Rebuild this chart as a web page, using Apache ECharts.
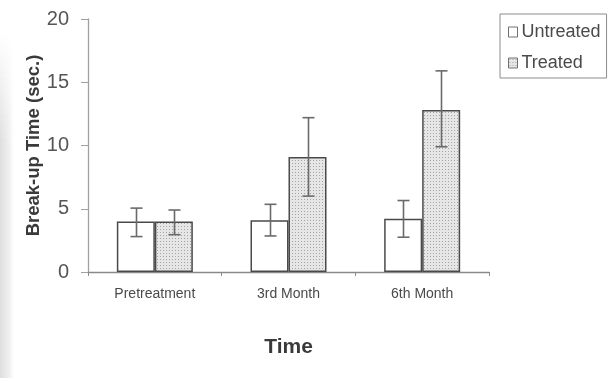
<!DOCTYPE html>
<html>
<head>
<meta charset="utf-8">
<script src="https://cdn.jsdelivr.net/npm/echarts@6/dist/echarts.min.js"></script>
<style>
  html, body { margin: 0; padding: 0; background: #fff; }
  #chart { width: 609px; height: 378px; }
</style>
</head>
<body>
<div id="chart"></div>
<script>
// Break-up time by visit, untreated vs treated eyes
const categories = ['Pretreatment', '3rd Month', '6th Month'];
const untreated = [4.0, 4.1, 4.2];
const treated = [4.0, 9.1, 12.8];
// error bar extents (low / high) for each group
const untreatedLow = [2.8, 2.85, 2.75];
const untreatedHigh = [5.05, 5.35, 5.65];
const treatedLow = [2.95, 6.0, 9.9];
const treatedHigh = [4.9, 12.2, 15.9];
const yTicks = [0, 5, 10, 15, 20];

// fine stipple fill for the treated bars
function stipple() {
  const c = document.createElement('canvas');
  c.width = 3; c.height = 3;
  const g = c.getContext('2d');
  g.fillStyle = '#e6e6e6';
  g.fillRect(0, 0, 3, 3);
  g.fillStyle = '#a4a4a4';
  g.fillRect(1, 1, 1, 1);
  return c;
}

const BAR_W = 38;
const CAP = 6;

function errorSeries(name, low, high, offset) {
  return {
    type: 'custom',
    name: name,
    silent: true,
    z: 5,
    data: low.map((l, i) => [i, l, high[i]]),
    renderItem: function (params, api) {
      const i = api.value(0);
      const pLo = api.coord([i, api.value(1)]);
      const pHi = api.coord([i, api.value(2)]);
      const x = Math.round(pLo[0] + offset) + 0.5;
      const style = { stroke: '#6a6a6a', lineWidth: 1.6 };
      return {
        type: 'group',
        children: [
          { type: 'line', shape: { x1: x, y1: pLo[1], x2: x, y2: pHi[1] }, style: style },
          { type: 'line', shape: { x1: x - CAP, y1: pLo[1], x2: x + CAP, y2: pLo[1] }, style: style },
          { type: 'line', shape: { x1: x - CAP, y1: pHi[1], x2: x + CAP, y2: pHi[1] }, style: style }
        ]
      };
    }
  };
}

// faint grey margin along the left edge, fading in from the top
function edgeShade() {
  const parts = [];
  const step = 6;
  for (let y = 30; y < 378; y += step) {
    const a = Math.min(0.13, 0.13 * (y - 30) / 110);
    parts.push({
      type: 'rect',
      left: 0,
      top: y,
      shape: { width: 14, height: step },
      silent: true,
      z: -10,
      style: {
        fill: {
          type: 'linear', x: 0, y: 0, x2: 1, y2: 0,
          colorStops: [
            { offset: 0, color: 'rgba(0,0,0,' + a.toFixed(3) + ')' },
            { offset: 0.6, color: 'rgba(0,0,0,' + (a / 2).toFixed(3) + ')' },
            { offset: 1, color: 'rgba(0,0,0,0)' }
          ]
        }
      }
    });
  }
  return parts;
}

const chart = echarts.init(document.getElementById('chart'), null, { renderer: 'canvas' });
const FONT = '"Liberation Sans", Arial, sans-serif';

chart.setOption({
  animation: false,
  backgroundColor: '#ffffff',
  graphic: edgeShade(),
  grid: { left: 88, right: 120, top: 19, bottom: 106, containLabel: false },
  legend: {
    data: ['Untreated', 'Treated'],
    orient: 'vertical',
    left: 500,
    top: 14,
    padding: [9, 6, 6, 8],
    itemGap: 13,
    itemWidth: 9,
    itemHeight: 10,
    icon: 'rect',
    itemStyle: { borderColor: '#707070', borderWidth: 1 },
    borderColor: '#8c8c8c',
    borderWidth: 1,
    textStyle: { fontFamily: FONT, fontSize: 18, color: '#4a4a4a', padding: [0, 0, 0, -1] }
  },
  xAxis: {
    type: 'category',
    data: categories,
    name: 'Time',
    nameLocation: 'middle',
    nameGap: 65,
    nameMoveOverlap: false,
    nameTextStyle: { fontFamily: FONT, fontSize: 21, fontWeight: 'bold', color: '#3a3a3a' },
    axisLine: { lineStyle: { color: '#8a8a8a', width: 1.3 } },
    axisTick: { show: true, length: 4, lineStyle: { color: '#8a8a8a' } },
    axisLabel: { fontFamily: FONT, fontSize: 14, color: '#4a4a4a', margin: 15 }
  },
  yAxis: {
    type: 'value',
    min: 0,
    max: 20,
    interval: 5,
    name: 'Break-up Time (sec.)',
    nameLocation: 'middle',
    nameGap: 45,
    nameMoveOverlap: false,
    nameTextStyle: { fontFamily: FONT, fontSize: 18.5, fontWeight: 'bold', color: '#3a3a3a' },
    axisLine: { show: true, lineStyle: { color: '#a0a0a0', width: 1.3 } },
    axisTick: { show: true, length: 7, lineStyle: { color: '#a0a0a0' } },
    splitLine: { show: false },
    axisLabel: {
      fontFamily: FONT, fontSize: 20, color: '#555555', margin: 19,
      formatter: v => (yTicks.indexOf(v) >= 0 ? String(v) : '')
    }
  },
  series: [
    {
      name: 'Untreated',
      type: 'bar',
      data: untreated,
      barWidth: BAR_W,
      barGap: '0%',
      itemStyle: { color: '#ffffff', borderColor: '#4a4a4a', borderWidth: 1.5 }
    },
    {
      name: 'Treated',
      type: 'bar',
      data: treated,
      barWidth: BAR_W,
      barGap: '0%',
      itemStyle: { color: { image: stipple(), repeat: 'repeat' }, borderColor: '#4a4a4a', borderWidth: 1.5 }
    },
    errorSeries('Untreated SD', untreatedLow, untreatedHigh, -BAR_W / 2),
    errorSeries('Treated SD', treatedLow, treatedHigh, BAR_W / 2)
  ]
});
</script>
</body>
</html>
